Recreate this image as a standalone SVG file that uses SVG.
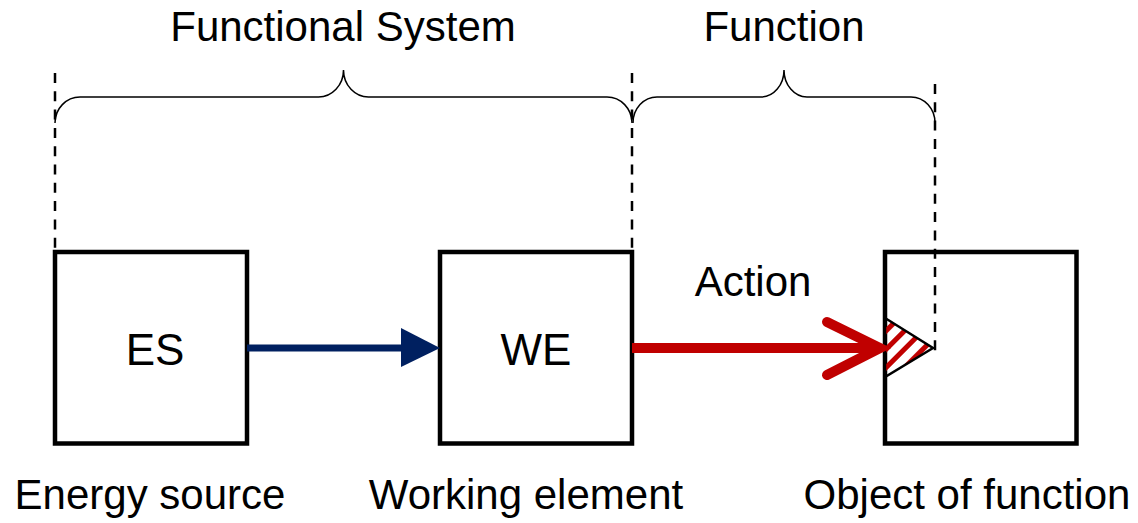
<svg xmlns="http://www.w3.org/2000/svg" width="1138" height="523" viewBox="0 0 1138 523">
<style>
.box{fill:#fff;stroke:#000;stroke-width:4.5}
.t{font-family:"Liberation Sans",Arial,sans-serif;font-size:42px;fill:#000;text-anchor:middle}
.dash{stroke:#000;stroke-width:2.5;stroke-dasharray:10 8.3;fill:none}
.brace{stroke:#000;stroke-width:1.5;fill:none}
</style>
<defs>
<pattern id="hatch" patternUnits="userSpaceOnUse" width="13" height="13" patternTransform="rotate(-45)">
<rect x="0" y="0" width="13" height="5" fill="#c00000"/>
</pattern>
</defs>
<rect width="1138" height="523" fill="#fff"/>
<text class="t" x="343" y="41">Functional System</text>
<text class="t" x="784" y="41">Function</text>
<g id="braces">
<path class="brace" d="M55,123 A25,26 0 0 1 80,97 L318,97 A25,27 0 0 0 343.5,70 A25,27 0 0 0 369,97 L607,97 A25,26 0 0 1 632,123"/>
<path class="brace" d="M633,123 A24,26 0 0 1 657,97 L761,97 A23,27 0 0 0 784,70 A23,27 0 0 0 807,97 L911,97 A24,26 0 0 1 935,123"/>
</g>
<g id="es"><rect class="box" x="55" y="252" width="192" height="191.5"/><text class="t" x="155" y="365" style="font-size:44px">ES</text><text class="t" x="150" y="509">Energy source</text></g>
<g id="we"><rect class="box" x="440" y="252" width="192" height="191.5"/><text class="t" x="536" y="365" style="font-size:44px">WE</text><text class="t" x="526" y="509">Working element</text></g>
<g id="obj"><rect class="box" x="885" y="252" width="191.5" height="191.5"/>
<polygon points="885,318 933,348 885,377" fill="url(#hatch)"/>
<polygon points="885,318 933,348 885,377" fill="none" stroke="#000" stroke-width="2.5" stroke-linejoin="miter"/>
<text class="t" x="967" y="509">Object of function</text></g>
<g id="connectors">
<line class="dash" x1="55" y1="73" x2="55" y2="250"/>
<line class="dash" x1="632" y1="73" x2="632" y2="250"/>
<line class="dash" x1="935" y1="84" x2="935" y2="355"/>
<line x1="247" y1="348" x2="403" y2="348" stroke="#002060" stroke-width="7"/>
<polygon points="401,328 440,348 401,367" fill="#002060"/>
<line x1="632" y1="348" x2="876" y2="348" stroke="#c00000" stroke-width="10"/>
<polyline points="827,322 880,348 827,375" fill="none" stroke="#c00000" stroke-width="10" stroke-linecap="round" stroke-linejoin="miter"/>
<text class="t" x="753" y="296">Action</text>
</g>
</svg>
